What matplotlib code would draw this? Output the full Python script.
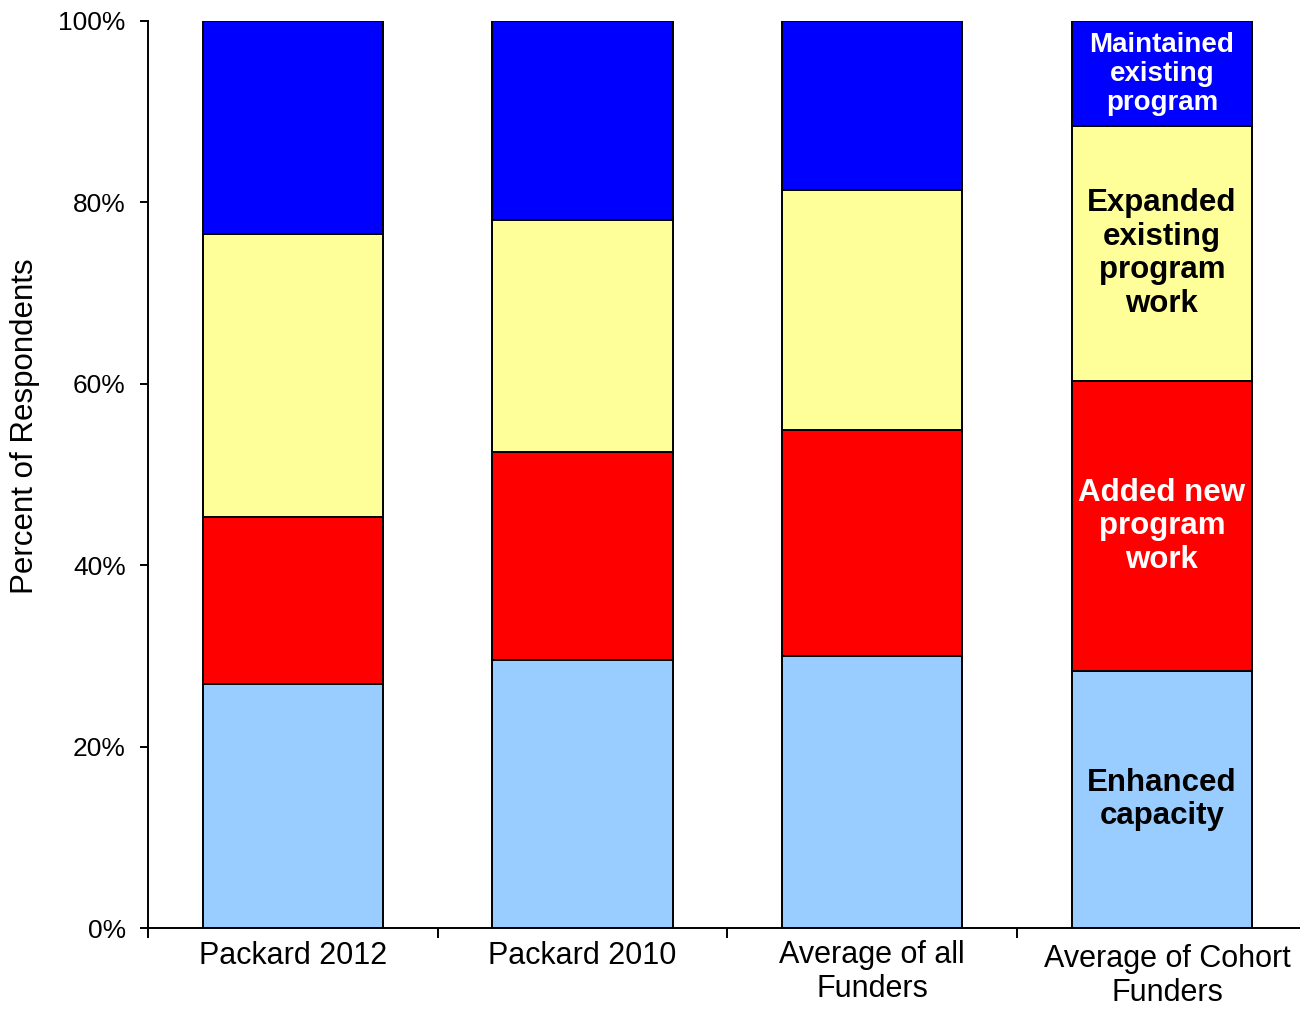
import matplotlib
matplotlib.use('Agg')
import matplotlib.pyplot as plt
import matplotlib.transforms as mtransforms
import numpy as np

plt.rcParams['font.family'] = ['Liberation Sans', 'DejaVu Sans']

# shares of respondents per funder group (percent), bottom to top
groups = ['Packard 2012', 'Packard 2010', 'Average of all\nFunders', 'Average of Cohort\nFunders']
enhanced_capacity = [26.9, 29.5, 30.0, 28.3]
added_new_work = [18.4, 23.0, 24.9, 32.0]
expanded_existing = [31.2, 25.6, 26.5, 28.1]
maintained_existing = [23.5, 21.9, 18.6, 11.6]

series_names = ['Enhanced\ncapacity', 'Added new\nprogram\nwork',
                'Expanded\nexisting\nprogram\nwork', 'Maintained\nexisting\nprogram']
series_colors = ['#99CCFF', '#FF0000', '#FFFF99', '#0000FF']
label_colors = ['black', 'white', 'black', 'white']
label_sizes = [22.5, 22.5, 22.5, 20]

fig = plt.figure(figsize=(13, 10.09), dpi=100)
ax = fig.add_axes([148 / 1300, 1 - 928 / 1009, 1158.7 / 1300, 907 / 1009])

x = np.arange(len(groups))
bottom = np.zeros(len(groups))
stack = [enhanced_capacity, added_new_work, expanded_existing, maintained_existing]
for vals, col in zip(stack, series_colors):
    ax.bar(x, vals, width=0.622, bottom=bottom, color=col,
           edgecolor='black', linewidth=1.4, zorder=2)
    bottom += np.array(vals)

# segment names written inside the last bar
last = len(groups) - 1
base = 0.0
for vals, name, tc, fs in zip(stack, series_names, label_colors, label_sizes):
    mid = base + vals[last] / 2
    ax.text(x[last], mid, name, ha='center', va='center', color=tc,
            fontsize=fs, fontweight='bold', linespacing=1.15)
    base += vals[last]

ax.set_xlim(-0.5, 3.5)
ax.set_ylim(0, 100)
ax.set_yticks(np.arange(0, 101, 20))
ax.set_yticklabels(['%d%%' % v for v in range(0, 101, 20)], fontsize=19)
ax.tick_params(axis='y', direction='out', length=6, width=1.4, pad=10)

ax.set_xticks(x)
ax.set_xticklabels(groups, fontsize=22, linespacing=1.15)
ax.set_xticks(np.arange(-0.5, 3.0, 1.0), minor=True)
ax.tick_params(axis='x', which='major', length=0, pad=9)
ax.tick_params(axis='x', which='minor', direction='out', length=7, width=1.4)

# the cohort label sits a little lower than the others
lbl = ax.get_xticklabels()[last]
lbl.set_transform(lbl.get_transform() +
                  mtransforms.ScaledTranslation(6 / 100, -4 / 100, fig.dpi_scale_trans))

for s in ['top', 'right']:
    ax.spines[s].set_visible(False)
for s in ['left', 'bottom']:
    ax.spines[s].set_linewidth(1.4)

fig.text(25 / 1300, 1 - 426 / 1009, 'Percent of Respondents', rotation=90,
         ha='center', va='center', fontsize=22.5)

fig.savefig('out.png', dpi=100)
